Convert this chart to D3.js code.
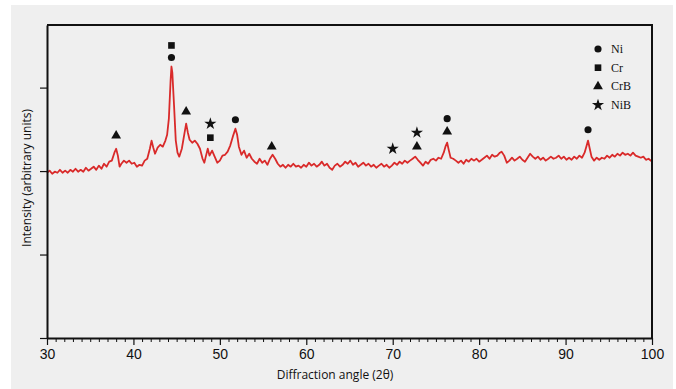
<!DOCTYPE html>
<html>
<head>
<meta charset="utf-8">
<script src="https://cdn.jsdelivr.net/npm/d3@7"></script>
<style>
  html, body { margin: 0; padding: 0; background: #fff; }
  svg { display: block; }
</style>
</head>
<body>
<div id="chart"></div>
<script>
// diffraction pattern, [2theta, intensity]
const pattern = [
  [30.0, 792], [30.3, 802], [30.6, 787], [30.9, 797], [31.2, 792], [31.5, 806], [31.8, 792],
  [32.1, 802], [32.4, 792], [32.7, 806], [33.0, 797], [33.3, 811], [33.6, 797], [33.9, 806],
  [34.2, 797], [34.5, 816], [34.8, 802], [35.1, 811], [35.4, 821], [35.7, 806], [36.0, 826],
  [36.3, 811], [36.6, 835], [36.9, 821], [37.2, 845], [37.5, 850], [37.8, 888], [38.0, 907],
  [38.2, 874], [38.4, 821], [38.6, 835], [38.9, 850], [39.2, 840], [39.5, 850], [39.8, 835],
  [40.1, 840], [40.4, 821], [40.7, 830], [41.0, 826], [41.3, 850], [41.6, 859], [41.9, 907],
  [42.1, 946], [42.3, 912], [42.5, 883], [42.8, 912], [43.1, 926], [43.4, 917], [43.7, 946],
  [43.9, 974], [44.1, 1051], [44.3, 1234], [44.4, 1301], [44.5, 1272], [44.7, 1114], [44.9, 946],
  [45.1, 888], [45.3, 869], [45.6, 907], [45.9, 979], [46.1, 1027], [46.3, 984], [46.5, 950],
  [46.8, 936], [47.1, 946], [47.4, 931], [47.7, 907], [48.0, 859], [48.2, 840], [48.4, 874],
  [48.6, 907], [48.8, 874], [49.1, 898], [49.4, 869], [49.7, 840], [50.0, 850], [50.3, 874],
  [50.6, 878], [50.9, 893], [51.2, 922], [51.5, 965], [51.8, 1003], [52.0, 974], [52.2, 917],
  [52.5, 878], [52.8, 898], [53.1, 864], [53.4, 883], [53.7, 859], [54.0, 845], [54.3, 835],
  [54.6, 859], [54.9, 840], [55.2, 850], [55.5, 830], [55.8, 859], [56.1, 878], [56.4, 859],
  [56.7, 835], [57.0, 821], [57.3, 830], [57.6, 816], [57.9, 830], [58.2, 821], [58.5, 835],
  [58.8, 821], [59.1, 826], [59.4, 816], [59.7, 830], [60.0, 821], [60.3, 840], [60.6, 826],
  [60.9, 835], [61.2, 821], [61.5, 830], [61.8, 845], [62.1, 826], [62.4, 835], [62.7, 816],
  [63.0, 806], [63.3, 826], [63.6, 835], [63.9, 821], [64.2, 830], [64.5, 845], [64.8, 835],
  [65.1, 850], [65.4, 830], [65.7, 840], [66.0, 821], [66.3, 830], [66.6, 840], [66.9, 826],
  [67.2, 835], [67.5, 821], [67.8, 830], [68.1, 816], [68.4, 826], [68.7, 835], [69.0, 821],
  [69.3, 830], [69.6, 816], [69.9, 826], [70.2, 840], [70.5, 830], [70.8, 845], [71.1, 835],
  [71.4, 850], [71.7, 840], [72.0, 850], [72.3, 859], [72.6, 869], [72.9, 854], [73.2, 840],
  [73.5, 826], [73.8, 845], [74.1, 835], [74.4, 854], [74.7, 859], [75.0, 850], [75.3, 864],
  [75.6, 859], [75.9, 888], [76.1, 917], [76.3, 936], [76.5, 898], [76.7, 864], [77.0, 859],
  [77.3, 850], [77.6, 840], [77.9, 850], [78.2, 835], [78.5, 854], [78.8, 845], [79.1, 859],
  [79.4, 850], [79.7, 859], [80.0, 845], [80.3, 854], [80.6, 864], [80.9, 874], [81.2, 859],
  [81.5, 878], [81.8, 869], [82.1, 874], [82.4, 888], [82.6, 893], [82.9, 874], [83.2, 840],
  [83.5, 850], [83.8, 864], [84.1, 850], [84.4, 859], [84.7, 869], [85.0, 854], [85.3, 845],
  [85.6, 864], [85.9, 883], [86.2, 869], [86.5, 859], [86.8, 869], [87.1, 854], [87.4, 864],
  [87.7, 850], [88.0, 859], [88.3, 869], [88.6, 859], [88.9, 864], [89.2, 874], [89.5, 859],
  [89.8, 869], [90.1, 854], [90.4, 864], [90.7, 854], [91.0, 869], [91.3, 859], [91.6, 874],
  [91.9, 864], [92.2, 888], [92.4, 917], [92.6, 946], [92.8, 907], [93.0, 869], [93.3, 850],
  [93.6, 864], [93.9, 854], [94.2, 864], [94.5, 859], [94.8, 874], [95.1, 864], [95.4, 878],
  [95.7, 869], [96.0, 883], [96.3, 874], [96.6, 888], [96.9, 878], [97.2, 883], [97.5, 874],
  [97.8, 888], [98.1, 874], [98.4, 869], [98.7, 864], [99.0, 869], [99.3, 854], [99.6, 859],
  [100.0, 845]
];

// phase markers above the peaks: [2theta, height, phase]
const peakMarks = [
  [38.0, 970, 'CrB'],
  [44.4, 1402, 'Cr'], [44.4, 1344, 'Ni'],
  [46.1, 1085, 'CrB'],
  [48.9, 1027, 'NiB'], [48.9, 960, 'Cr'],
  [51.8, 1046, 'Ni'],
  [56.0, 917, 'CrB'],
  [70.0, 907, 'NiB'],
  [72.8, 984, 'NiB'], [72.8, 917, 'CrB'],
  [76.3, 1051, 'Ni'], [76.3, 989, 'CrB'],
  [92.6, 998, 'Ni']
];

const phases = ['Ni', 'Cr', 'CrB', 'NiB'];
const xTicks = [30, 40, 50, 60, 70, 80, 90, 100];
const yTicks = [0, 400, 800, 1200];

const width = 676, height = 389;
const margin = { top: 25, right: 24, bottom: 51, left: 47 };

const svg = d3.select('#chart').append('svg')
  .attr('width', width)
  .attr('height', height);

// grey panel of the screenshot
svg.append('rect')
  .attr('x', 11).attr('y', 5)
  .attr('width', 662).attr('height', 384)
  .attr('fill', '#efefef');

const x = d3.scaleLinear().domain([30, 100]).range([margin.left, width - margin.right]);
const y = d3.scaleLinear().domain([0, 1500]).range([height - margin.bottom, margin.top]);

const symbolFor = {
  Ni: d3.symbol().type(d3.symbolCircle).size(40),
  Cr: d3.symbol().type(d3.symbolSquare).size(44),
  CrB: d3.symbol().type(d3.symbolTriangle).size(42),
  NiB: d3.symbol().type(d3.symbolStar).size(46)
};

// trace
const line = d3.line().x(d => x(d[0])).y(d => y(d[1]));
svg.append('path')
  .datum(pattern)
  .attr('d', line)
  .attr('fill', 'none')
  .attr('stroke', '#d92a2a')
  .attr('stroke-width', 1.8)
  .attr('stroke-linejoin', 'round');

// phase markers
svg.append('g')
  .selectAll('path')
  .data(peakMarks)
  .enter()
  .append('path')
  .attr('transform', d => `translate(${x(d[0])},${y(d[1])})`)
  .attr('d', d => symbolFor[d[2]]())
  .attr('fill', '#111');

// frame: top and right
svg.append('path')
  .attr('d', `M${x(30)},${y(1500)}H${x(100)}V${y(0)}`)
  .attr('fill', 'none')
  .attr('stroke', '#111')
  .attr('stroke-width', 2);

// minor x ticks
svg.append('g')
  .attr('transform', `translate(0,${y(0)})`)
  .call(d3.axisBottom(x)
    .tickValues(d3.range(31, 100).filter(v => v % 10 !== 0))
    .tickSize(4)
    .tickFormat(''))
  .call(g => g.select('.domain').remove())
  .call(g => g.selectAll('line').attr('stroke', '#111').attr('stroke-width', 1));

// major x axis
svg.append('g')
  .attr('transform', `translate(0,${y(0)})`)
  .call(d3.axisBottom(x).tickValues(xTicks).tickSize(7).tickSizeOuter(0).tickPadding(4))
  .call(g => g.select('.domain').attr('stroke', '#111').attr('stroke-width', 2))
  .call(g => g.selectAll('line').attr('stroke', '#111').attr('stroke-width', 1.2))
  .call(g => g.selectAll('text')
    .attr('fill', '#111')
    .style('font-family', '"Liberation Sans Narrow", "Arial Narrow", "Liberation Sans", sans-serif')
    .style('font-size', '14px'));

// y axis, ticks only
svg.append('g')
  .attr('transform', `translate(${x(30)},0)`)
  .call(d3.axisLeft(y).tickValues(yTicks).tickSize(7).tickSizeOuter(0).tickFormat(''))
  .call(g => g.select('.domain').attr('stroke', '#111').attr('stroke-width', 2))
  .call(g => g.selectAll('line').attr('stroke', '#111').attr('stroke-width', 1.2));

// axis titles
svg.append('text')
  .attr('x', 335).attr('y', 379)
  .attr('text-anchor', 'middle')
  .style('font-family', '"Open Sans", "DejaVu Sans", sans-serif')
  .style('font-size', '12px')
  .attr('fill', '#111')
  .text('Diffraction angle (2θ)');

svg.append('text')
  .attr('transform', 'translate(31,178) rotate(-90)')
  .attr('text-anchor', 'middle')
  .style('font-family', '"Open Sans", "DejaVu Sans", sans-serif')
  .style('font-size', '12px')
  .attr('fill', '#111')
  .text('Intensity (arbitrary units)');

// legend
const legend = svg.append('g').attr('transform', 'translate(598,49)');
const item = legend.selectAll('g')
  .data(phases)
  .enter()
  .append('g')
  .attr('transform', (d, i) => `translate(0,${i * 18.7})`);

item.append('path')
  .attr('d', d => symbolFor[d]())
  .attr('fill', '#111');

item.append('text')
  .attr('x', 13)
  .attr('y', 4)
  .style('font-family', '"Liberation Serif", "Times New Roman", serif')
  .style('font-size', '12px')
  .attr('fill', '#111')
  .text(d => d);
</script>
</body>
</html>
